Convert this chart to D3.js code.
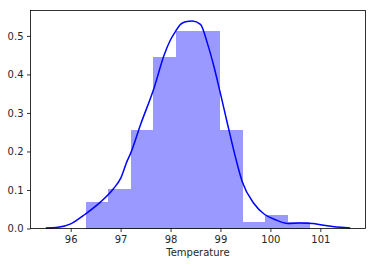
<!DOCTYPE html>
<html>
<head>
<meta charset="utf-8">
<script src="https://cdn.jsdelivr.net/npm/d3@7"></script>
<style>
  body { margin: 0; background: #fff; }
  text { font-family: "DejaVu Sans", sans-serif; }
</style>
</head>
<body>
<script>
// histogram bins (density)
var binEdges = [96.3, 96.75, 97.2, 97.65, 98.1, 98.55, 99.0, 99.45, 99.9, 100.35, 100.8];
var binDensity = [0.068, 0.103, 0.256, 0.444, 0.513, 0.513, 0.256, 0.017, 0.034, 0.017];

// kde curve, read point by point
var kdeX = [95.5, 95.75, 96.0, 96.3, 96.6, 96.86, 97.0, 97.13, 97.2, 97.4, 97.67, 97.87, 98.0, 98.1,
            98.2, 98.3, 98.44, 98.6, 98.74, 98.87, 99.0, 99.14, 99.31, 99.44, 99.67, 99.88, 100.08,
            100.35, 100.6, 100.85, 101.0, 101.21, 101.4, 101.6];
var kdeY = [0.001, 0.003, 0.012, 0.038, 0.069, 0.104, 0.13, 0.175, 0.195, 0.27, 0.365, 0.45, 0.49, 0.512,
            0.53, 0.537, 0.539, 0.53, 0.48, 0.42, 0.35, 0.272, 0.18, 0.12, 0.065, 0.037, 0.024,
            0.013, 0.014, 0.013, 0.010, 0.006, 0.003, 0.001];

var xTicks = [96, 97, 98, 99, 100, 101];
var yTicks = [0.0, 0.1, 0.2, 0.3, 0.4, 0.5];

var width = 375, height = 266;
var plotLeft = 30.5, plotTop = 10.5, plotRight = 365.5, plotBottom = 228.5;

var svg = d3.select("body").append("svg")
    .attr("width", width)
    .attr("height", height);

var x = d3.scaleLinear().domain([95.195, 101.905]).range([plotLeft, plotRight]);
var y = d3.scaleLinear().domain([0, 0.566]).range([plotBottom, plotTop]);

var bars = binDensity.map(function (d, i) { return { x0: binEdges[i], x1: binEdges[i + 1], d: d }; });

svg.selectAll("rect.bar")
    .data(bars)
    .enter()
    .append("rect")
    .attr("class", "bar")
    .attr("x", function (d) { return x(d.x0); })
    .attr("width", function (d) { return x(d.x1) - x(d.x0); })
    .attr("y", function (d) { return y(d.d); })
    .attr("height", function (d) { return y(0) - y(d.d); })
    .attr("fill", "#0000ff")
    .attr("fill-opacity", 0.4)
    .attr("shape-rendering", "crispEdges");

var line = d3.line()
    .x(function (d, i) { return x(kdeX[i]); })
    .y(function (d) { return y(d); })
    .curve(d3.curveMonotoneX);

svg.append("path")
    .datum(kdeY)
    .attr("d", line)
    .attr("fill", "none")
    .attr("stroke", "#0000ff")
    .attr("stroke-width", 1.5);

var xAxis = svg.append("g")
    .attr("transform", "translate(0," + plotBottom + ")")
    .call(d3.axisBottom(x).tickValues(xTicks).tickSize(3.5).tickPadding(3.5).tickFormat(d3.format("d")));

var yAxis = svg.append("g")
    .attr("transform", "translate(" + plotLeft + ",0)")
    .call(d3.axisLeft(y).tickValues(yTicks).tickSize(3.5).tickPadding(3.5).tickFormat(d3.format(".1f")));

[xAxis, yAxis].forEach(function (g) {
  g.select(".domain").remove();
  g.selectAll(".tick line").attr("stroke", "#000").attr("stroke-width", 0.8);
  g.selectAll(".tick text").attr("fill", "#262626").style("font-size", "10px")
    .style("font-family", "'DejaVu Sans', sans-serif");
});

// frame
svg.append("rect")
    .attr("x", plotLeft)
    .attr("y", plotTop)
    .attr("width", plotRight - plotLeft)
    .attr("height", plotBottom - plotTop)
    .attr("fill", "none")
    .attr("stroke", "#000")
    .attr("stroke-width", 0.8);

svg.append("text")
    .attr("x", (plotLeft + plotRight) / 2)
    .attr("y", 256)
    .attr("text-anchor", "middle")
    .style("font-size", "10px")
    .attr("fill", "#262626")
    .text("Temperature");
</script>
</body>
</html>
